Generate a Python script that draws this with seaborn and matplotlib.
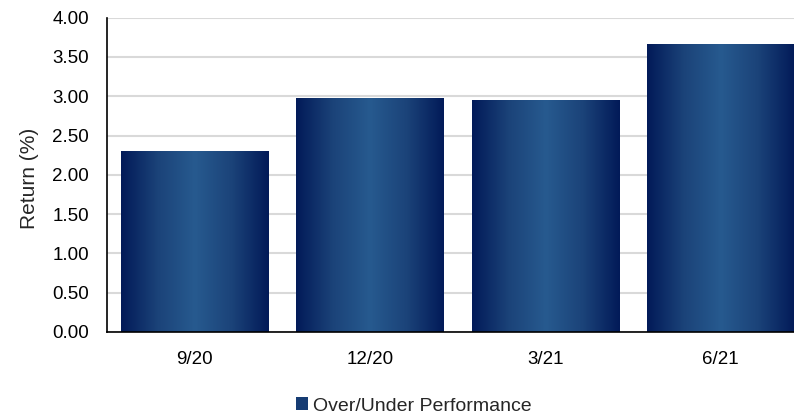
import numpy as np
import pandas as pd
import matplotlib
matplotlib.use("Agg")
import matplotlib.pyplot as plt
import seaborn as sns
from matplotlib.colors import LinearSegmentedColormap
from matplotlib.patches import Patch

# Datos
periodos = ["9/20", "12/20", "3/21", "6/21"]
retornos = [2.30, 2.98, 2.95, 3.67]
serie = "Over/Under Performance"

df = pd.DataFrame({"Periodo": periodos, "Retorno": retornos})

sns.set_style("white")
plt.rcParams["font.family"] = ["Liberation Sans", "DejaVu Sans"]

fig = plt.figure(figsize=(7.94, 4.17), dpi=100)
ax = fig.add_axes([107 / 794, 85 / 417, (808.5 - 107) / 794, (332 - 17.7) / 417])

sns.barplot(data=df, x="Periodo", y="Retorno", color="#1f4a80", width=0.84,
            ax=ax, zorder=2)

# Degradado horizontal dentro de cada barra
cmap = LinearSegmentedColormap.from_list(
    "barra", ["#021a58", "#1b4379", "#275a8f", "#1b4379", "#021a58"])
grad = np.linspace(0, 1, 256).reshape(1, -1)
for p in ax.patches:
    x0, y0 = p.get_x(), p.get_y()
    w, h = p.get_width(), p.get_height()
    im = ax.imshow(grad, extent=[x0, x0 + w, y0, y0 + h], aspect="auto",
                   cmap=cmap, zorder=3, interpolation="bilinear")
    im.set_clip_path(p)
    p.set_facecolor("none")
    p.set_edgecolor("none")

ax.set_xlim(-0.5, 3.5)
ax.set_ylim(0, 4)
ax.set_yticks(np.arange(0, 4.01, 0.5))
ax.set_yticklabels([f"{v:.2f}" for v in np.arange(0, 4.01, 0.5)])
ax.yaxis.grid(True, color="#d9d9d9", linewidth=1.5, zorder=0)
ax.set_axisbelow(True)

for s in ["top", "right"]:
    ax.spines[s].set_visible(False)
for s in ["left", "bottom"]:
    ax.spines[s].set_color("black")
    ax.spines[s].set_linewidth(1.2)
    ax.spines[s].set_zorder(5)

ax.tick_params(axis="both", length=0, labelsize=13.5, colors="black")
ax.tick_params(axis="y", pad=13)
ax.tick_params(axis="x", pad=14)
ax.set_xlabel("")
ax.set_ylabel("Return (%)", fontsize=15)
ax.yaxis.set_label_coords((39 - 107) / 701.5, 0.49)

fig.legend(handles=[Patch(facecolor="#163c73", edgecolor="none", label=serie)],
           loc="center", bbox_to_anchor=(414 / 794, 1 - 406 / 417), frameon=False,
           fontsize=14, handlelength=0.6, handleheight=0.6, handletextpad=0.3)

fig.savefig("out.png", dpi=100)
plt.close(fig)
